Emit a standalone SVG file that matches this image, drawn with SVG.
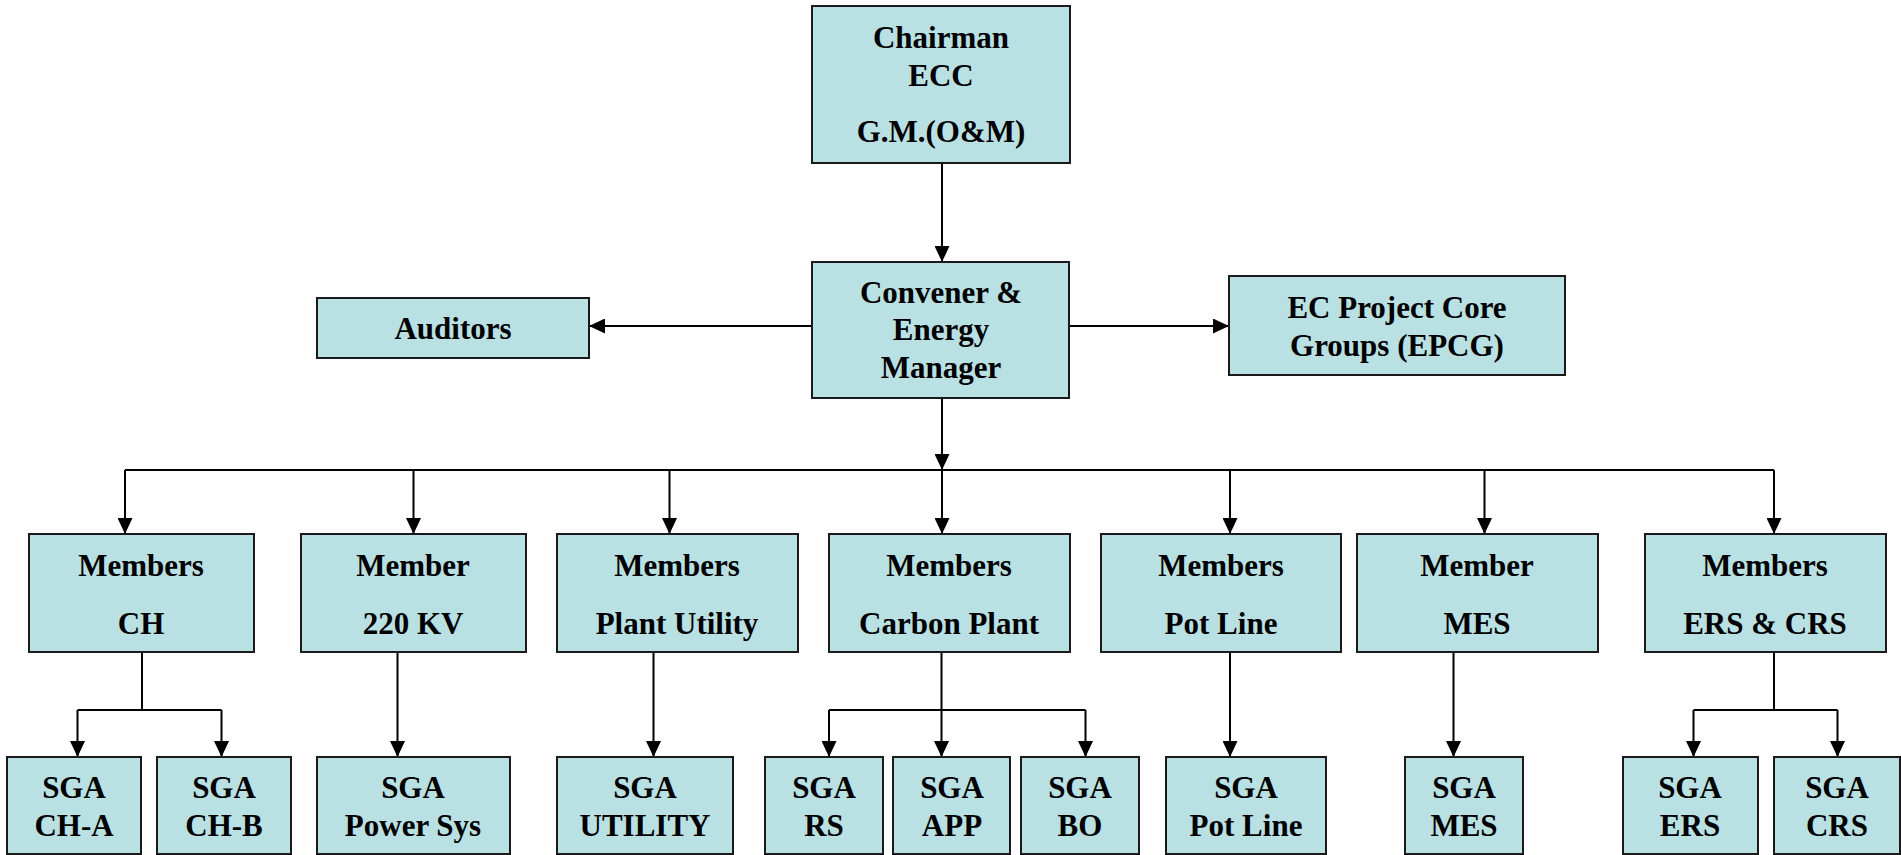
<svg xmlns="http://www.w3.org/2000/svg" width="1901" height="855" viewBox="0 0 1901 855">
<style>
.box{fill:#B9E0E3;stroke:#1a1a1a;stroke-width:2}
.t{font-family:"Liberation Serif","Times New Roman",serif;font-weight:bold;font-size:31px;fill:#000;text-anchor:middle}
.c{fill:none;stroke:#000;stroke-width:2}
</style>
<defs>
<marker id="ah" markerUnits="userSpaceOnUse" markerWidth="16" markerHeight="15" refX="16" refY="7.5" orient="auto">
<path d="M0,0 L16,7.5 L0,15 z" fill="#000"/>
</marker>
</defs>
<rect width="1901" height="855" fill="#fff"/>
<g id="connectors">
<path class="c" d="M942,163 V262" marker-end="url(#ah)"/>
<path class="c" d="M812,326 H589" marker-end="url(#ah)"/>
<path class="c" d="M1069,326 H1229" marker-end="url(#ah)"/>
<path class="c" d="M942,398 V470" marker-end="url(#ah)"/>
<path class="c" d="M125,470 H1774"/>
<path class="c" d="M125,470 V534" marker-end="url(#ah)"/>
<path class="c" d="M413.5,470 V534" marker-end="url(#ah)"/>
<path class="c" d="M669.5,470 V534" marker-end="url(#ah)"/>
<path class="c" d="M942,470 V534" marker-end="url(#ah)"/>
<path class="c" d="M1230,470 V534" marker-end="url(#ah)"/>
<path class="c" d="M1484.5,470 V534" marker-end="url(#ah)"/>
<path class="c" d="M1774,470 V534" marker-end="url(#ah)"/>
<path class="c" d="M142,652 V710 M77.5,710 H221.5"/>
<path class="c" d="M77.5,710 V757" marker-end="url(#ah)"/>
<path class="c" d="M221.5,710 V757" marker-end="url(#ah)"/>
<path class="c" d="M397.5,652 V757" marker-end="url(#ah)"/>
<path class="c" d="M653.5,652 V757" marker-end="url(#ah)"/>
<path class="c" d="M829,710 H1085.5"/>
<path class="c" d="M941.5,652 V757" marker-end="url(#ah)"/>
<path class="c" d="M829,710 V757" marker-end="url(#ah)"/>
<path class="c" d="M1085.5,710 V757" marker-end="url(#ah)"/>
<path class="c" d="M1230,652 V757" marker-end="url(#ah)"/>
<path class="c" d="M1453.5,652 V757" marker-end="url(#ah)"/>
<path class="c" d="M1774,652 V710 M1693.5,710 H1837.5"/>
<path class="c" d="M1693.5,710 V757" marker-end="url(#ah)"/>
<path class="c" d="M1837.5,710 V757" marker-end="url(#ah)"/>
</g>
<g id="chairman"><rect class="box" x="812" y="6" width="258" height="157"/>
<text class="t" x="941" y="48">Chairman</text><text class="t" x="941" y="86">ECC</text><text class="t" x="941" y="142">G.M.(O&amp;M)</text></g>
<g id="convener"><rect class="box" x="812" y="262" width="257" height="136"/>
<text class="t" x="941" y="303">Convener &amp;</text><text class="t" x="941" y="340">Energy</text><text class="t" x="941" y="378">Manager</text></g>
<g id="auditors"><rect class="box" x="317" y="298" width="272" height="60"/>
<text class="t" x="453" y="339">Auditors</text></g>
<g id="epcg"><rect class="box" x="1229" y="276" width="336" height="99"/>
<text class="t" x="1397" y="318">EC Project Core</text><text class="t" x="1397" y="356">Groups (EPCG)</text></g>
<g id="m-ch"><rect class="box" x="29" y="534" width="225" height="118"/>
<text class="t" x="141" y="576">Members</text><text class="t" x="141" y="634">CH</text></g>
<g id="m-220kv"><rect class="box" x="301" y="534" width="225" height="118"/>
<text class="t" x="413" y="576">Member</text><text class="t" x="413" y="634">220 KV</text></g>
<g id="m-pu"><rect class="box" x="557" y="534" width="241" height="118"/>
<text class="t" x="677" y="576">Members</text><text class="t" x="677" y="634">Plant Utility</text></g>
<g id="m-carbon"><rect class="box" x="829" y="534" width="241" height="118"/>
<text class="t" x="949" y="576">Members</text><text class="t" x="949" y="634">Carbon Plant</text></g>
<g id="m-pot"><rect class="box" x="1101" y="534" width="240" height="118"/>
<text class="t" x="1221" y="576">Members</text><text class="t" x="1221" y="634">Pot Line</text></g>
<g id="m-mes"><rect class="box" x="1357" y="534" width="241" height="118"/>
<text class="t" x="1477" y="576">Member</text><text class="t" x="1477" y="634">MES</text></g>
<g id="m-ers"><rect class="box" x="1645" y="534" width="241" height="118"/>
<text class="t" x="1765" y="576">Members</text><text class="t" x="1765" y="634">ERS &amp; CRS</text></g>
<g id="s-cha"><rect class="box" x="7" y="757" width="134" height="97"/>
<text class="t" x="74" y="798">SGA</text><text class="t" x="74" y="836">CH-A</text></g>
<g id="s-chb"><rect class="box" x="157" y="757" width="134" height="97"/>
<text class="t" x="224" y="798">SGA</text><text class="t" x="224" y="836">CH-B</text></g>
<g id="s-power"><rect class="box" x="317" y="757" width="193" height="97"/>
<text class="t" x="413" y="798">SGA</text><text class="t" x="413" y="836">Power Sys</text></g>
<g id="s-utility"><rect class="box" x="557" y="757" width="176" height="97"/>
<text class="t" x="645" y="798">SGA</text><text class="t" x="645" y="836">UTILITY</text></g>
<g id="s-rs"><rect class="box" x="765" y="757" width="118" height="97"/>
<text class="t" x="824" y="798">SGA</text><text class="t" x="824" y="836">RS</text></g>
<g id="s-app"><rect class="box" x="893" y="757" width="117" height="97"/>
<text class="t" x="952" y="798">SGA</text><text class="t" x="952" y="836">APP</text></g>
<g id="s-bo"><rect class="box" x="1021" y="757" width="118" height="97"/>
<text class="t" x="1080" y="798">SGA</text><text class="t" x="1080" y="836">BO</text></g>
<g id="s-pot"><rect class="box" x="1166" y="757" width="160" height="97"/>
<text class="t" x="1246" y="798">SGA</text><text class="t" x="1246" y="836">Pot Line</text></g>
<g id="s-mes"><rect class="box" x="1405" y="757" width="118" height="97"/>
<text class="t" x="1464" y="798">SGA</text><text class="t" x="1464" y="836">MES</text></g>
<g id="s-ers"><rect class="box" x="1623" y="757" width="135" height="97"/>
<text class="t" x="1690" y="798">SGA</text><text class="t" x="1690" y="836">ERS</text></g>
<g id="s-crs"><rect class="box" x="1774" y="757" width="126" height="97"/>
<text class="t" x="1837" y="798">SGA</text><text class="t" x="1837" y="836">CRS</text></g>
</svg>
